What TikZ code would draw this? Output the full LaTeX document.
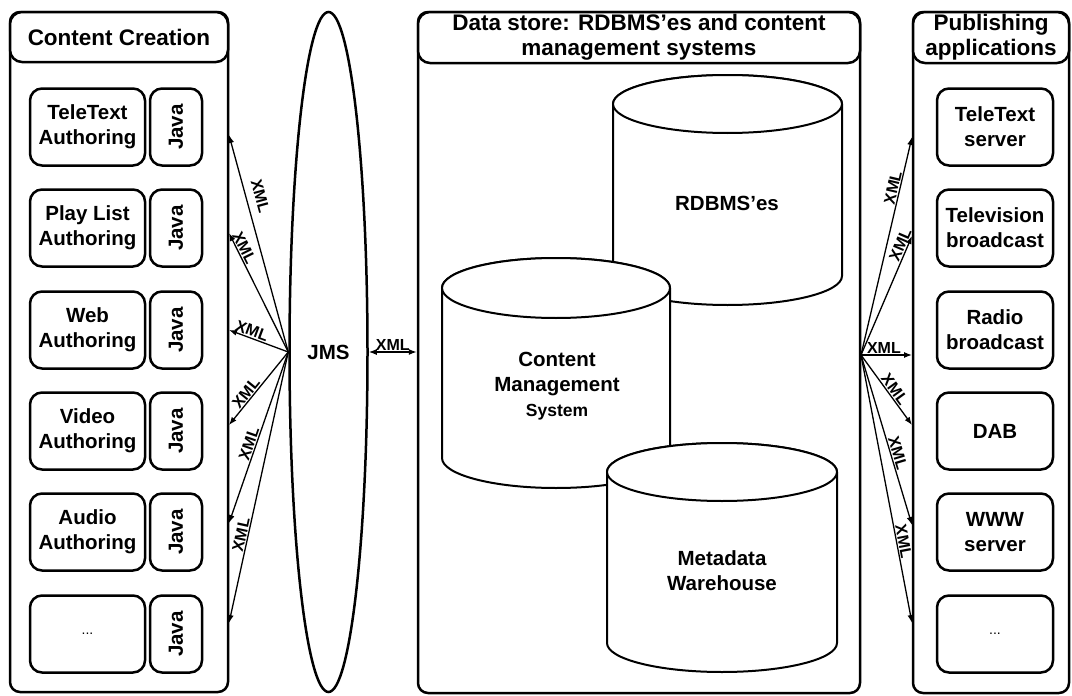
\documentclass[tikz,border=0pt]{standalone}
\usepackage{fontspec}
\setmainfont{Liberation Sans}
\usetikzlibrary{arrows.meta,shapes.geometric}
\begin{document}
\begin{tikzpicture}[x=1pt,y=-1pt,
  font=\fontsize{20.5}{25}\selectfont\bfseries,
  cont/.style={draw, line width=2.5pt, rounded corners=10pt, inner sep=0pt},
  hdr/.style={draw, fill=white, line width=2.5pt, rounded corners=12pt, inner sep=0pt, align=center,
              font=\fontsize{22.5}{25}\selectfont\bfseries},
  bigbox/.style={draw, line width=2.5pt, rounded corners=12pt, minimum width=115pt, minimum height=77pt, inner sep=0pt, align=center},
  javabox/.style={draw, line width=2.5pt, rounded corners=12pt, minimum width=52pt, minimum height=77pt, inner sep=0pt},
  pubbox/.style={draw, line width=2.5pt, rounded corners=12pt, minimum width=116pt, minimum height=77pt, inner sep=0pt, align=center},
  arr/.style={line width=1.3pt, -{Latex[length=8pt,width=6pt]}},
  arrtwo/.style={line width=1.3pt, {Latex[length=8pt,width=6pt]}-{Latex[length=8pt,width=6pt]}},
  xml/.style={font=\fontsize{16}{16}\selectfont\bfseries, inner sep=1pt, sloped, above},
  cyl/.style={draw, fill=white, line width=2pt},
  dots/.style={font=\fontsize{14}{14}\selectfont\mdseries}
]
\useasboundingbox (0,0) rectangle (1072,696);
\fill[white] (0,0) rectangle (1072,696);

% containers
\node[cont, minimum width=218pt, minimum height=680pt] (cc) at (119,352) {};
\node[hdr, minimum width=218pt, minimum height=50pt] (cch) at (119,37) {Content Creation};
\node[cont, minimum width=442pt, minimum height=681pt] (ds) at (639,352.5) {};
\node[hdr, minimum width=442pt, minimum height=51pt] (dsh) at (639,37.5) {Data store: RDBMS'es and content\\management systems};
\node[cont, minimum width=156pt, minimum height=681pt] (pa) at (991,352.5) {};
\node[hdr, minimum width=156pt, minimum height=51pt] (pah) at (991,37.5) {Publishing\\applications};

% content creation boxes
\node[bigbox] (a1) at (87.5,127) {TeleText\\Authoring};
\node[bigbox] (a2) at (87.5,228) {Play List\\Authoring};
\node[bigbox] (a3) at (87.5,330) {Web\\Authoring};
\node[bigbox] (a4) at (87.5,431) {Video\\Authoring};
\node[bigbox] (a5) at (87.5,532) {Audio\\Authoring};
\node[bigbox, dots] (a6) at (87.5,634) {...};
\node[javabox] (j1) at (176,127) {\rotatebox{90}{Java}};
\node[javabox] (j2) at (176,228) {\rotatebox{90}{Java}};
\node[javabox] (j3) at (176,330) {\rotatebox{90}{Java}};
\node[javabox] (j4) at (176,431) {\rotatebox{90}{Java}};
\node[javabox] (j5) at (176,532) {\rotatebox{90}{Java}};
\node[javabox] (j6) at (176,634) {\rotatebox{90}{Java}};

% publishing boxes
\node[pubbox] (p1) at (995,127) {TeleText\\server};
\node[pubbox] (p2) at (995,228) {Television\\broadcast};
\node[pubbox] (p3) at (995,330) {Radio\\broadcast};
\node[pubbox] (p4) at (995,431) {DAB};
\node[pubbox] (p5) at (995,532) {WWW\\server};
\node[pubbox, dots] (p6) at (995,634) {...};

% JMS
\node[draw, ellipse, line width=2.5pt, minimum width=78pt, minimum height=680pt, inner sep=0pt] (jms) at (328.5,352) {JMS};

% cylinders
\path[cyl] (613,104) -- (613,276) arc[start angle=180,end angle=0,x radius=114.5,y radius=29] -- (842,104) arc[start angle=0,end angle=-180,x radius=114.5,y radius=29] -- cycle;
\path[cyl] (727.5,104) ellipse[x radius=114.5, y radius=29];
\node (rdbL) at (727,203) {RDBMS'es};

\path[cyl] (442,288) -- (442,458) arc[start angle=180,end angle=0,x radius=114,y radius=30] -- (670,288) arc[start angle=0,end angle=-180,x radius=114,y radius=30] -- cycle;
\path[cyl] (556,288) ellipse[x radius=114, y radius=30];
\node[align=center] (cmsL) at (557,386) {Content\\Management\\{\fontsize{17.5}{20}\selectfont System}};

\path[cyl] (607,472) -- (607,643) arc[start angle=180,end angle=0,x radius=115,y radius=29] -- (837,472) arc[start angle=0,end angle=-180,x radius=115,y radius=29] -- cycle;
\path[cyl] (722,472) ellipse[x radius=115, y radius=29];
\node[align=center] (mdL) at (722,571) {Metadata\\Warehouse};

% left arrows
\coordinate (L1) at (229,135);
\coordinate (L2) at (229,233);
\coordinate (L3) at (229,330);
\coordinate (L4) at (229,425);
\coordinate (L5) at (229,523);
\coordinate (L6) at (229,623);
\draw[arr] (jms.west) -- node[xml, pos=0.7, above=7pt] {XML} (L1);
\draw[arr] (jms.west) -- node[xml, pos=0.85] {XML} (L2);
\draw[arr] (jms.west) -- node[xml, pos=0.65] {XML} (L3);
\draw[arr] (jms.west) -- node[xml, pos=0.62] {XML} (L4);
\draw[arr] (jms.west) -- node[xml, pos=0.55] {XML} (L5);
\draw[arr] (jms.west) -- node[xml, pos=0.68] {XML} (L6);

% middle arrow
\draw[arrtwo] (jms.east) -- node[xml] {XML} (jms.east -| ds.west);

% right arrows
\coordinate (R0) at (861,355);
\coordinate (R1) at (912,137);
\coordinate (R2) at (912,236);
\coordinate (R3) at (912,355);
\coordinate (R4) at (912,425);
\coordinate (R5) at (912,525);
\coordinate (R6) at (912,623);
\draw[arr] (R0) -- node[xml, pos=0.76] {XML} (R1);
\draw[arr] (R0) -- node[xml, pos=0.9] {XML} (R2);
\draw[arr] (R0) -- node[xml, pos=0.45] {XML} (R3);
\draw[arr] (R0) -- node[xml, pos=0.55] {XML} (R4);
\draw[arr] (R0) -- node[xml, pos=0.59] {XML} (R5);
\draw[arr] (R0) -- node[xml, pos=0.7] {XML} (R6);
\end{tikzpicture}
\end{document}
